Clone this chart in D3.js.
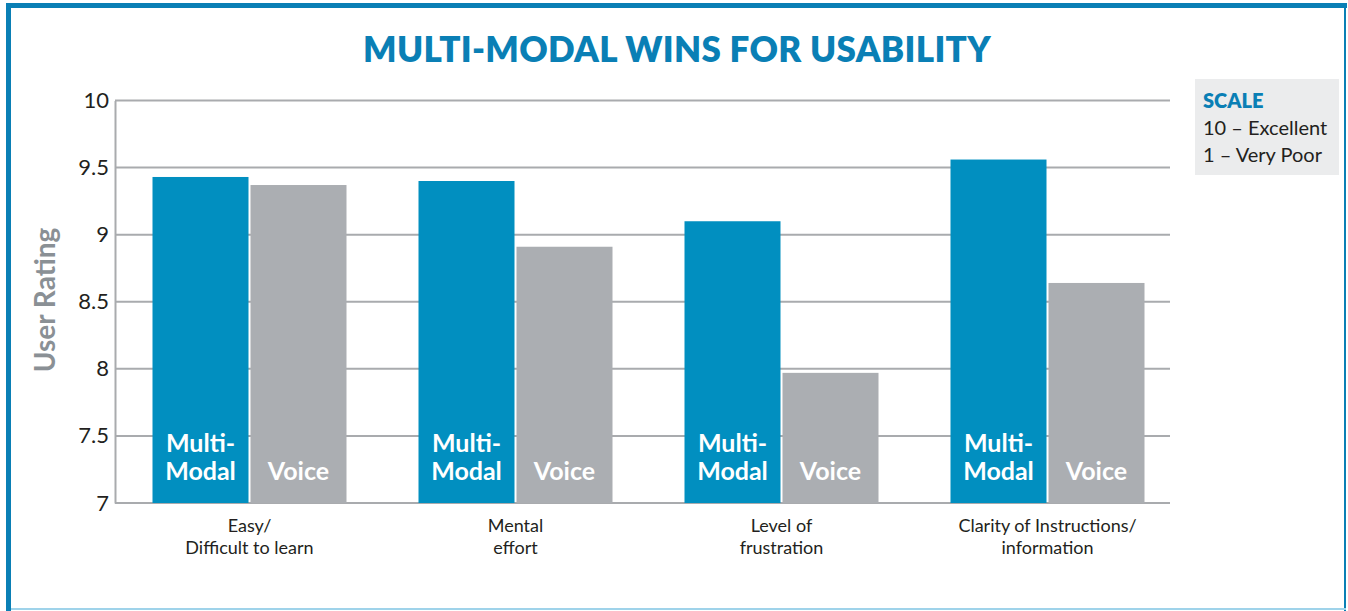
<!DOCTYPE html>
<html>
<head>
<meta charset="utf-8">
<script src="https://cdn.jsdelivr.net/npm/d3@7"></script>
<style>
  body { margin: 0; background: #fff; }
  svg { display: block; font-family: Lato, "Open Sans", sans-serif; }
</style>
</head>
<body>
<div id="chart"></div>
<script>
const categories = [["Easy/", "Difficult to learn"], ["Mental", "effort"], ["Level of", "frustration"], ["Clarity of Instructions/", "information"]];
const series = ["Multi-Modal", "Voice"];
const seriesLabels = [["Multi-", "Modal"], ["Voice"]];
const multiModal = [9.43, 9.40, 9.10, 9.56];
const voice = [9.37, 8.91, 7.97, 8.64];
const yTicks = [7, 7.5, 8, 8.5, 9, 9.5, 10];
const legendLines = ["10 \u2013 Excellent", "1 \u2013 Very Poor"];

const WIDTH = 1348, HEIGHT = 611;
const BLUE = "#018fc0", GREY = "#abaeb2", TITLE = "#0a7fb5", GRID = "#a9abae", INK = "#231f20";

const svg = d3.select("#chart").append("svg")
    .attr("width", WIDTH)
    .attr("height", HEIGHT);

// frame
svg.append("rect").attr("x", 6).attr("y", 3).attr("width", 1341).attr("height", 5).attr("fill", "#0a7fb5");
svg.append("rect").attr("x", 6).attr("y", 3).attr("width", 5).attr("height", 608).attr("fill", "#0a7fb5");
svg.append("rect").attr("x", 1344).attr("y", 3).attr("width", 2).attr("height", 608).attr("fill", "#0a7fb5");
svg.append("rect").attr("x", 11).attr("y", 608).attr("width", 1335).attr("height", 2).attr("fill", "#9fd3ea");

// title
svg.append("text")
    .attr("x", 677).attr("y", 62)
    .attr("text-anchor", "middle")
    .attr("font-size", "35px")
    .attr("font-weight", 800)
    .attr("letter-spacing", "0.3px")
    .attr("fill", TITLE)
    .text("MULTI-MODAL WINS FOR USABILITY");

const yScale = d3.scaleLinear().domain([7, 10]).range([503, 100.5]);
const xScale = d3.scaleBand().domain(d3.range(categories.length)).range([116.5, 1180.5]).padding(0);
const barW = 96, barGap = 2;
const inner = d3.scaleBand().domain(series)
    .range([0, barW * 2 + barGap]).paddingInner(barGap / (barW + barGap));
const pairOffset = (xScale.bandwidth() - (barW * 2 + barGap)) / 2;

// gridlines
svg.append("g")
    .selectAll("line")
    .data(yTicks)
    .join("line")
    .attr("x1", 115).attr("x2", 1170)
    .attr("y1", d => yScale(d)).attr("y2", d => yScale(d))
    .attr("stroke", GRID).attr("stroke-width", 2);

// y axis
const yAxis = svg.append("g")
    .attr("transform", "translate(115,0)")
    .call(d3.axisLeft(yScale).tickValues(yTicks).tickSize(0).tickPadding(6).tickFormat(d3.format("")));
yAxis.select(".domain").attr("stroke", GRID).attr("stroke-width", 2);
yAxis.selectAll("text")
    .attr("font-size", "22px")
    .attr("font-family", "Lato, sans-serif")
    .attr("fill", INK);

svg.append("text")
    .attr("transform", "translate(55,300) rotate(-90)")
    .attr("text-anchor", "middle")
    .attr("font-size", "28px")
    .attr("font-weight", 700)
    .attr("fill", "#8a9095")
    .text("User Rating");

// bars
const rows = categories.map((c, i) => [
    { i, s: series[0], v: multiModal[i], color: BLUE, lab: seriesLabels[0] },
    { i, s: series[1], v: voice[i], color: GREY, lab: seriesLabels[1] }
]).flat();

const bars = svg.append("g");
bars.selectAll("rect")
    .data(rows)
    .join("rect")
    .attr("x", d => xScale(d.i) + pairOffset + inner(d.s))
    .attr("width", inner.bandwidth())
    .attr("y", d => yScale(d.v))
    .attr("height", d => yScale(7) - yScale(d.v))
    .attr("fill", d => d.color);

// labels inside bars
bars.selectAll("text.barlab")
    .data(rows)
    .join("text")
    .attr("class", "barlab")
    .attr("text-anchor", "middle")
    .attr("font-size", "25px")
    .attr("font-weight", 700)
    .attr("fill", "#fff")
    .each(function(d) {
        const t = d3.select(this);
        const n = d.lab.length;
        const cx = xScale(d.i) + pairOffset + inner(d.s) + inner.bandwidth() / 2;
        d.lab.forEach((line, k) => {
            t.append("tspan")
                .attr("x", cx)
                .attr("y", 480 - (n - 1 - k) * 28)
                .text(line);
        });
    });

// category labels
svg.append("g")
    .selectAll("text")
    .data(categories)
    .join("text")
    .attr("text-anchor", "middle")
    .attr("font-size", "18px")
    .attr("fill", INK)
    .each(function(d, i) {
        const cx = xScale(i) + xScale.bandwidth() / 2;
        d3.select(this).selectAll("tspan")
            .data(d)
            .join("tspan")
            .attr("x", cx)
            .attr("y", (l, k) => 532 + k * 22)
            .text(l => l);
    });

// legend box
const legend = svg.append("g").attr("transform", "translate(1195,79)");
legend.append("rect").attr("width", 144).attr("height", 96).attr("fill", "#ebeced");
legend.append("text")
    .attr("x", 8).attr("y", 29)
    .attr("font-size", "20px").attr("font-weight", 800)
    .attr("fill", TITLE)
    .text("SCALE");
legend.selectAll("text.line")
    .data(legendLines)
    .join("text")
    .attr("class", "line")
    .attr("x", 8)
    .attr("y", (d, i) => 56 + i * 27)
    .attr("font-size", "20px")
    .attr("fill", INK)
    .text(d => d);
</script>
</body>
</html>
